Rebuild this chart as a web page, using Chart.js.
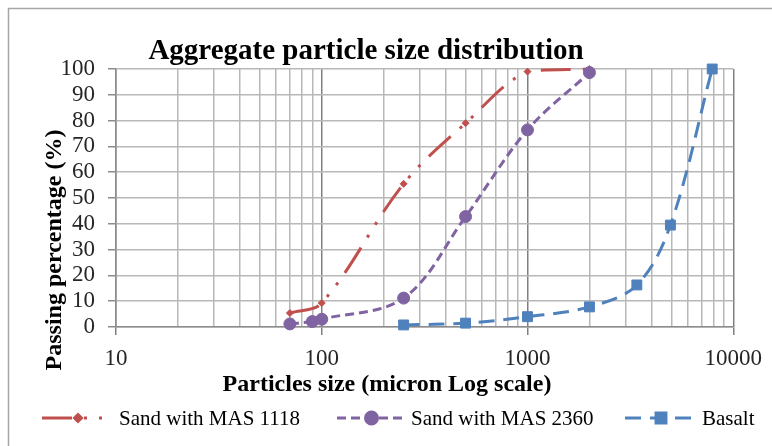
<!DOCTYPE html>
<html>
<head>
<meta charset="utf-8">
<title>Aggregate particle size distribution</title>
<script src="https://cdn.jsdelivr.net/npm/chart.js@4"></script>
<style>
  html, body { margin: 0; padding: 0; background: #fff; }
  #wrap { width: 772px; height: 446px; position: relative; }
</style>
</head>
<body>
<div id="wrap"><canvas id="psd-chart"></canvas></div>
<script>
// Data (sieve size in micron, % passing)
const sand1118Size = [70, 100, 250, 500, 1000, 2000];
const sand1118Pass = [5.4, 9.3, 55.5, 79, 99, 100];

const sand2360Size = [70, 90, 100, 250, 500, 1000, 2000];
const sand2360Pass = [1.2, 2.1, 3, 11.2, 42.8, 76.4, 98.6];

const basaltSize = [250, 500, 1000, 2000, 3400, 4950, 7900];
const basaltPass = [0.8, 1.5, 4, 7.8, 16.3, 39.5, 100];

const seriesNames = ['Sand with MAS 1118', 'Sand with MAS 2360', 'Basalt'];
const xTickLabels = [10, 100, 1000, 10000];
const yTickLabels = [0, 10, 20, 30, 40, 50, 60, 70, 80, 90, 100];

const SERIF = '"Liberation Serif", "Times New Roman", serif';

function toPoints(xs, ys) {
    return xs.map((x, i) => ({ x: x, y: ys[i] }));
}

// gridlines at 1..9 x each decade
const xGridValues = [];
xTickLabels.forEach((d, i) => {
    if (i === xTickLabels.length - 1) { xGridValues.push(d); return; }
    for (let m = 1; m <= 9; m++) xGridValues.push(d * m);
});

const styles = [
    { color: '#c0504d', dash: [30, 12, 3, 12, 3, 12], point: 'rectRot', radius: 3.5 },
    { color: '#8064a2', dash: [9, 5], point: 'circle', radius: 6 },
    { color: '#4f81bd', dash: [16, 9], point: 'rect', radius: 7 }
];

// title, axis titles, legend and outer frame drawn by hand
const decorations = {
    id: 'decorations',
    afterDraw(chart) {
        const ctx = chart.ctx;
        ctx.save();

        // outer frame
        ctx.strokeStyle = '#a6a6a6';
        ctx.lineWidth = 1.5;
        ctx.strokeRect(8.5, 8.5, 900, 600);

        ctx.fillStyle = '#000';
        ctx.textAlign = 'center';
        ctx.textBaseline = 'alphabetic';
        ctx.font = 'bold 29px ' + SERIF;
        ctx.fillText('Aggregate particle size distribution', 366, 59);

        ctx.font = 'bold 24px ' + SERIF;
        ctx.fillText('Particles size (micron Log scale)', 387, 391);

        ctx.save();
        ctx.translate(61, 250);
        ctx.rotate(-Math.PI / 2);
        ctx.fillText('Passing percentage (%)', 0, 0);
        ctx.restore();

        // legend
        const items = [
            { x0: 42, x1: 114 },
            { x0: 337, x1: 406 },
            { x0: 625, x1: 697 }
        ];
        const ly = 418;
        items.forEach((it, i) => {
            const s = styles[i];
            ctx.strokeStyle = s.color;
            ctx.fillStyle = s.color;
            ctx.lineWidth = 3;
            ctx.setLineDash(s.dash);
            ctx.beginPath();
            ctx.moveTo(it.x0, ly);
            ctx.lineTo(it.x1, ly);
            ctx.stroke();
            ctx.setLineDash([]);
            Chart.helpers.drawPoint(ctx, { pointStyle: s.point, radius: s.radius, rotation: 0, borderWidth: 1 },
                (it.x0 + it.x1) / 2, ly);
            ctx.fillStyle = '#000';
            ctx.font = '21px ' + SERIF;
            ctx.textAlign = 'left';
            ctx.textBaseline = 'alphabetic';
            ctx.fillText(seriesNames[i], it.x1 + 5, 425);
        });

        ctx.restore();
    }
};

const allSizes = [sand1118Size, sand2360Size, basaltSize];
const allPass = [sand1118Pass, sand2360Pass, basaltPass];

const datasets = seriesNames.map((name, i) => ({
    label: name,
    data: toPoints(allSizes[i], allPass[i]),
    borderColor: styles[i].color,
    backgroundColor: styles[i].color,
    borderWidth: 3,
    borderDash: styles[i].dash,
    pointStyle: styles[i].point,
    pointRadius: styles[i].radius,
    pointBorderWidth: 1,
    pointHoverRadius: styles[i].radius,
    tension: 0.35,
    clip: false,
    order: 2 - i
}));

const ctx = document.getElementById('psd-chart').getContext('2d');
new Chart(ctx, {
    type: 'line',
    data: { datasets: datasets },
    options: {
        responsive: true,
        maintainAspectRatio: false,
        animation: false,
        layout: { padding: { top: 69, right: 36, left: 0, bottom: 0 } },
        plugins: {
            legend: { display: false },
            title: { display: false },
            tooltip: { enabled: false }
        },
        scales: {
            x: {
                type: 'logarithmic',
                min: 10,
                max: 10000,
                afterBuildTicks: (scale) => {
                    scale.ticks = xGridValues.map(v => ({ value: v }));
                },
                afterFit: (scale) => { scale.height = 119; },
                ticks: {
                    autoSkip: false,
                    maxRotation: 0,
                    padding: 10,
                    color: '#262626',
                    font: { family: SERIF, size: 23 },
                    callback: (v) => xTickLabels.includes(v) ? String(v) : ''
                },
                grid: {
                    color: (c) => xTickLabels.includes(c.tick && c.tick.value) ? '#808080' : '#b8b8b8',
                    tickColor: (c) => xTickLabels.includes(c.tick && c.tick.value) ? '#808080' : 'rgba(0,0,0,0)',
                    tickLength: 8,
                    lineWidth: 1.5
                },
                border: { color: '#8c8c8c', width: 1.5 }
            },
            y: {
                min: 0,
                max: 100,
                afterBuildTicks: (scale) => {
                    scale.ticks = yTickLabels.map(v => ({ value: v }));
                },
                afterFit: (scale) => { scale.width = 116; },
                ticks: {
                    autoSkip: false,
                    padding: 13,
                    color: '#262626',
                    font: { family: SERIF, size: 23 }
                },
                grid: {
                    color: '#b8b8b8',
                    tickColor: '#8c8c8c',
                    tickLength: 8,
                    lineWidth: 1.5
                },
                border: { color: '#8c8c8c', width: 1.5 }
            }
        }
    },
    plugins: [decorations]
});
</script>
</body>
</html>
